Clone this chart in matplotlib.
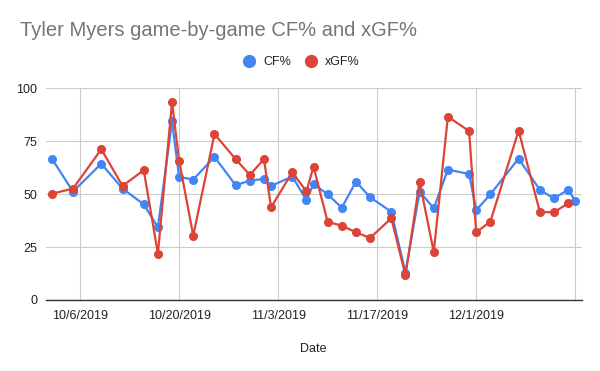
import numpy as np
import pandas as pd
import matplotlib
matplotlib.use("Agg")
import matplotlib.pyplot as plt
from matplotlib.lines import Line2D

plt.rcParams["font.family"] = ["Liberation Sans", "DejaVu Sans"]

# game dates and values
game_dates = [
    "2019-10-02", "2019-10-05", "2019-10-09", "2019-10-12", "2019-10-15",
    "2019-10-17", "2019-10-19", "2019-10-20", "2019-10-22", "2019-10-25",
    "2019-10-28", "2019-10-30", "2019-11-01", "2019-11-02", "2019-11-05",
    "2019-11-07", "2019-11-08", "2019-11-10", "2019-11-12", "2019-11-14",
    "2019-11-16", "2019-11-19", "2019-11-21", "2019-11-23", "2019-11-25",
    "2019-11-27", "2019-11-30", "2019-12-01", "2019-12-03", "2019-12-07",
    "2019-12-10", "2019-12-12", "2019-12-14", "2019-12-15",
]
cf_pct = [
    66.8, 51.2, 64.4, 52.6, 45.2, 34.3, 84.4, 58.1, 56.9, 67.6,
    54.2, 56.4, 57.2, 53.9, 58.3, 47.2, 54.8, 49.9, 43.6, 55.9,
    48.5, 41.7, 12.9, 51.2, 43.3, 61.6, 59.5, 42.4, 49.9, 66.8,
    52.0, 48.0, 52.1, 46.9,
]
xgf_pct = [
    50.2, 52.6, 71.2, 53.9, 61.3, 21.9, 93.5, 65.8, 30.4, 78.4,
    66.5, 59.1, 66.5, 43.8, 60.3, 51.3, 63.0, 36.9, 35.1, 32.0,
    29.3, 38.6, 11.7, 55.9, 22.7, 86.6, 79.8, 32.0, 37.0, 80.0,
    41.6, 41.4, 45.7, np.nan,
]
tick_dates = ["2019-10-06", "2019-10-20", "2019-11-03", "2019-11-17", "2019-12-01", "2019-12-15"]
tick_labels = ["10/6/2019", "10/20/2019", "11/3/2019", "11/17/2019", "12/1/2019", ""]
y_ticks = [0, 25, 50, 75, 100]

blue = "#4285f4"
red = "#db4437"

dates = pd.to_datetime(game_dates)

fig = plt.figure(figsize=(6, 3.71), dpi=100)
ax = fig.add_axes([0.076, 0.1914, 0.8935, 0.5706])

ax.plot(dates, cf_pct, color=blue, linewidth=1.6, marker="o", markersize=5.5, zorder=3)
ax.plot(dates, xgf_pct, color=red, linewidth=1.6, marker="o", markersize=5.5, zorder=4)

ax.set_xlim(pd.Timestamp("2019-10-01 03:00"), pd.Timestamp("2019-12-15 22:00"))
ax.set_ylim(0, 100)
ax.set_xticks(pd.to_datetime(tick_dates))
ax.set_xticklabels(tick_labels)
ax.set_yticks(y_ticks)
ax.tick_params(axis="both", length=0, labelsize=9, colors="#222222")
ax.tick_params(axis="x", pad=7)
ax.tick_params(axis="y", pad=6)
ax.grid(True, color="#cccccc", linewidth=0.8)
ax.set_axisbelow(True)
for side in ["top", "right", "left"]:
    ax.spines[side].set_visible(False)
ax.spines["bottom"].set_color("#333333")
ax.spines["bottom"].set_linewidth(1.0)
ax.spines["bottom"].set_zorder(5)

ax.set_xlabel("Date", fontsize=9, color="#222222", labelpad=15)

fig.text(20 / 600, 1 - 31 / 371, "Tyler Myers game-by-game CF% and xGF%",
         fontsize=14.5, color="#757575", va="center", ha="left")

# legend: dots only, centred above the plot
handles = [
    Line2D([], [], color=blue, marker="o", linestyle="none", markersize=8.5),
    Line2D([], [], color=red, marker="o", linestyle="none", markersize=8.5),
]
fig.legend(handles, ["CF%", "xGF%"], loc="center", bbox_to_anchor=(0.502, 1 - 62 / 371),
           ncol=2, frameon=False, fontsize=9, handletextpad=0.6, columnspacing=1.1,
           handlelength=1.0, labelcolor="#222222")

fig.savefig("out.png", dpi=100)
